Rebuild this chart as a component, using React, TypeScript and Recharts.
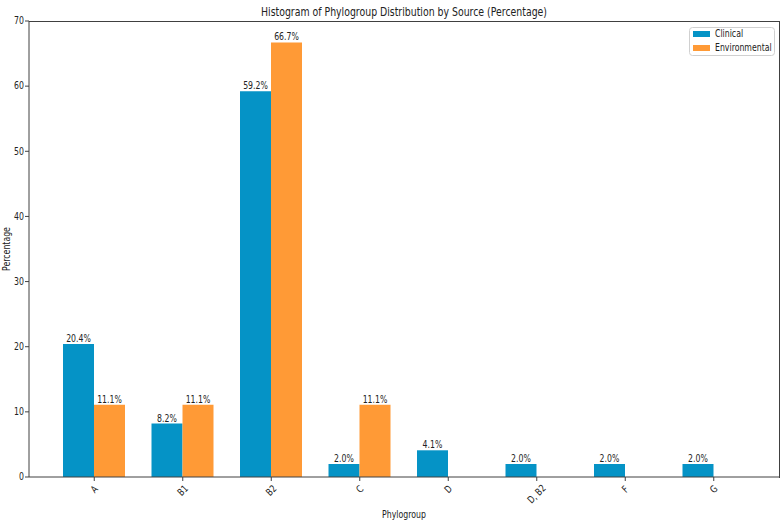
import React from "react";
import { Bar, BarChart, LabelList, XAxis, YAxis } from "recharts";

const phylogroups = ["A", "B1", "B2", "C", "D", "D, B2", "F", "G"];
const clinical = [20.4, 8.2, 59.2, 2.0, 4.1, 2.0, 2.0, 2.0];
const environmental = [11.1, 11.1, 66.7, 11.1, 0, 0, 0, 0];
const yTicks = [0, 10, 20, 30, 40, 50, 60, 70];
const seriesNames = ["Clinical", "Environmental"];
const seriesColors = ["#0593c6", "#ff9a36"];

const data = phylogroups.map((name, i) => ({
  name,
  clinical: clinical[i],
  environmental: environmental[i],
}));

const W = 784;
const H = 526;
const MARGIN = { top: 21, right: 5, bottom: 0, left: 0 };
const Y_AXIS_W = 29;
const X_AXIS_H = 49;
const plotLeft = MARGIN.left + Y_AXIS_W;
const plotRight = W - MARGIN.right;
const plotTop = MARGIN.top;
const plotBottom = H - MARGIN.bottom - X_AXIS_H;
const plotMidX = (plotLeft + plotRight) / 2;
const plotMidY = (plotTop + plotBottom) / 2;

const SQ = 0.78; // text in the reference is narrower than DejaVu Sans
const INK = "#222";
const AXIS = "#404040";

type TxtProps = {
  x: number;
  y: number;
  angle?: number;
  size?: number;
  anchor?: "start" | "middle" | "end";
  baseline?: "auto" | "central";
  children: React.ReactNode;
};

const Txt = ({ x, y, angle = 0, size = 10, anchor = "middle", baseline = "auto", children }: TxtProps) => (
  <g transform={`translate(${x},${y}) rotate(${angle}) scale(${SQ},1)`}>
    <text
      x={0}
      y={0}
      textAnchor={anchor}
      dominantBaseline={baseline}
      fontSize={size}
      fontFamily="DejaVu Sans"
      fill={INK}
    >
      {children}
    </text>
  </g>
);

const YTick = (props: any) => {
  const { x, y, payload } = props;
  return (
    <Txt x={Number(x) + 1} y={Number(y)} anchor="end" baseline="central">
      {payload.value}
    </Txt>
  );
};

const XTick = (props: any) => {
  const { x, payload } = props;
  const label = String(payload.value);
  const w = label.length * 4.8;
  return (
    <Txt x={Number(x)} y={plotBottom + 11 + w * 0.25} angle={-45} baseline="central">
      {label}
    </Txt>
  );
};

const BarValue = (props: any) => {
  const { x, y, width, value } = props;
  if (!value) return null;
  return (
    <Txt x={Number(x) + Number(width) / 2} y={Number(y) - 2}>
      {`${Number(value).toFixed(1)}%`}
    </Txt>
  );
};

export default function App() {
  return (
    <div style={{ position: "fixed", left: 0, top: 0, width: W, height: H, background: "#fff" }}>
      <BarChart width={W} height={H} data={data} margin={MARGIN} barGap={0} barSize={31}>
        <XAxis
          dataKey="name"
          height={X_AXIS_H}
          padding={{ left: 21, right: 21 }}
          tickSize={4}
          tick={<XTick />}
          tickLine={{ stroke: AXIS }}
          axisLine={{ stroke: AXIS }}
          interval={0}
        />
        <YAxis
          width={Y_AXIS_W}
          domain={[0, 70]}
          ticks={yTicks}
          tickSize={4}
          tick={<YTick />}
          tickLine={{ stroke: AXIS }}
          axisLine={{ stroke: AXIS }}
          interval={0}
        />
        <Bar dataKey="clinical" name={seriesNames[0]} fill={seriesColors[0]} isAnimationActive={false}>
          <LabelList dataKey="clinical" content={<BarValue />} />
        </Bar>
        <Bar dataKey="environmental" name={seriesNames[1]} fill={seriesColors[1]} isAnimationActive={false}>
          <LabelList dataKey="environmental" content={<BarValue />} />
        </Bar>
      </BarChart>
      <svg
        width={W}
        height={H}
        style={{ position: "absolute", left: 0, top: 0, zIndex: 10, pointerEvents: "none" }}
      >
        {/* top and right spines */}
        <line x1={plotLeft} y1={plotTop + 0.5} x2={plotRight + 1} y2={plotTop + 0.5} stroke={AXIS} strokeWidth={1} />
        <line x1={plotRight + 0.5} y1={plotTop} x2={plotRight + 0.5} y2={plotBottom + 1} stroke={AXIS} strokeWidth={1} />
        <Txt x={plotMidX} y={12} size={12} baseline="central">
          Histogram of Phylogroup Distribution by Source (Percentage)
        </Txt>
        <Txt x={7} y={plotMidY} angle={-90} baseline="central">
          Percentage
        </Txt>
        <Txt x={plotMidX} y={515} baseline="central">
          Phylogroup
        </Txt>
        <rect x={689.5} y={27.5} width={85} height={28} rx={3} fill="#fff" fillOpacity={0.8} stroke="#d0d0d0" />
        {seriesNames.map((name, i) => (
          <g key={name}>
            <rect x={693} y={31 + i * 14} width={17} height={6} fill={seriesColors[i]} />
            <Txt x={715} y={34 + i * 14} anchor="start" baseline="central">
              {name}
            </Txt>
          </g>
        ))}
      </svg>
    </div>
  );
}
